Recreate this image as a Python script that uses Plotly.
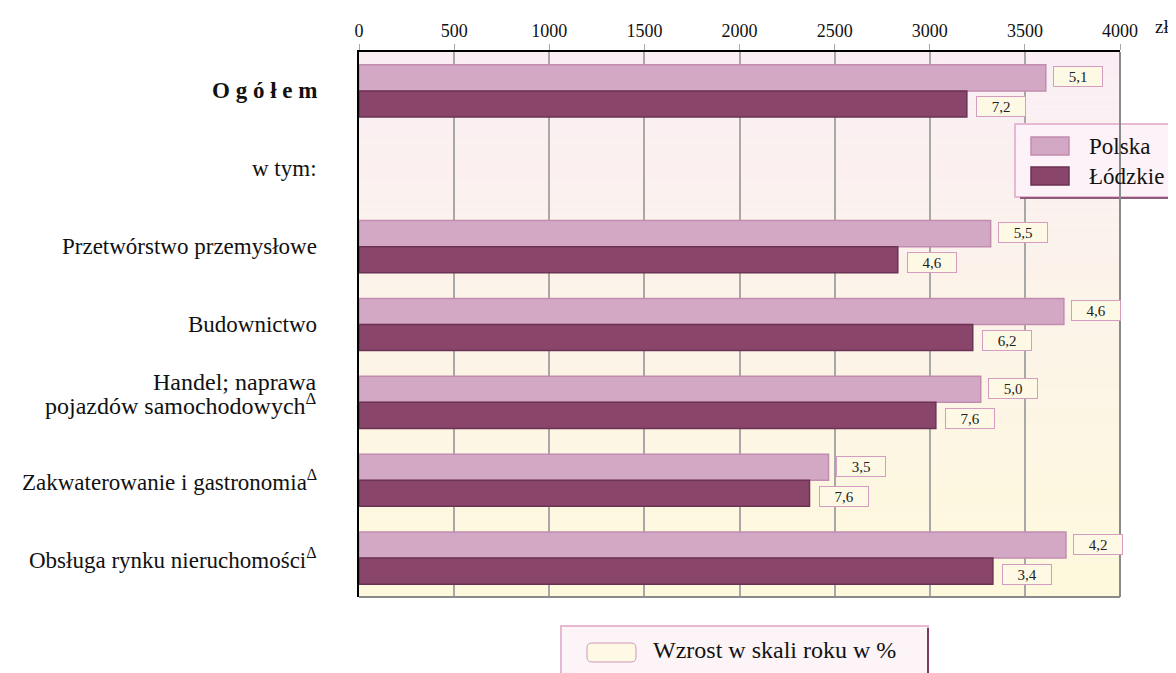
import plotly.graph_objects as go

categories = [
    "<b>O g ó ł e m</b>",
    "w tym:",
    "Przetwórstwo przemysłowe",
    "Budownictwo",
    "Handel; naprawa<br>pojazdów samochodowych<sup>Δ</sup>",
    "Zakwaterowanie i gastronomia<sup>Δ</sup>",
    "Obsługa rynku nieruchomości<sup>Δ</sup>",
]
polska = [3610, None, 3320, 3705, 3268, 2468, 3716]
lodzkie = [3195, None, 2832, 3226, 3032, 2368, 3332]
polska_growth = ["5,1", None, "5,5", "4,6", "5,0", "3,5", "4,2"]
lodzkie_growth = ["7,2", None, "4,6", "6,2", "7,6", "7,6", "3,4"]
x_ticks = [0, 500, 1000, 1500, 2000, 2500, 3000, 3500, 4000]

OFF = 8  # page offset of the plot div (body margin)
W, H = 1176 - OFF, 673 - OFF
# plot area in page pixels
L, R, T, B = 359, 1120, 52, 597
FONT = "Liberation Serif, Times New Roman, serif"
C_POL, C_POL_LINE = "#D3A8C4", "#C28CB0"
C_LDZ, C_LDZ_LINE = "#8A456B", "#6C3254"
C_PINK_BORDER = "#E6B8D2"
C_CREAM = "#FEF9E4"


def px(x):
    return (x - L) / (R - L)


def py(y):
    return (B - y) / (B - T)


def rrect(x0, y0, x1, y1, r):
    # rounded rectangle path in paper coords, corners given in page pixels
    pts = []
    pts.append("M %f,%f" % (px(x0 + r), py(y0)))
    pts.append("L %f,%f" % (px(x1 - r), py(y0)))
    pts.append("Q %f,%f %f,%f" % (px(x1), py(y0), px(x1), py(y0 + r)))
    pts.append("L %f,%f" % (px(x1), py(y1 - r)))
    pts.append("Q %f,%f %f,%f" % (px(x1), py(y1), px(x1 - r), py(y1)))
    pts.append("L %f,%f" % (px(x0 + r), py(y1)))
    pts.append("Q %f,%f %f,%f" % (px(x0), py(y1), px(x0), py(y1 - r)))
    pts.append("L %f,%f" % (px(x0), py(y0 + r)))
    pts.append("Q %f,%f %f,%f Z" % (px(x0), py(y0), px(x0 + r), py(y0)))
    return " ".join(pts)


fig = go.Figure()
fig.add_trace(go.Bar(
    y=categories, x=polska, name="Polska", orientation="h",
    marker=dict(color=C_POL, line=dict(color=C_POL_LINE, width=1.5)),
))
fig.add_trace(go.Bar(
    y=categories, x=lodzkie, name="Łódzkie", orientation="h",
    marker=dict(color=C_LDZ, line=dict(color=C_LDZ_LINE, width=1.5)),
))

annotations = []
label_box = dict(showarrow=False, xanchor="left", width=46, height=17, borderpad=1,
                 bgcolor=C_CREAM, bordercolor="#D49CC0", borderwidth=1,
                 font=dict(size=15, color="#222"))
for cat, v, g in zip(categories, polska, polska_growth):
    if v is not None:
        annotations.append(dict(x=v, y=cat, text=g, xshift=7, yshift=14, **label_box))
for cat, v, g in zip(categories, lodzkie, lodzkie_growth):
    if v is not None:
        annotations.append(dict(x=v, y=cat, text=g, xshift=9, yshift=-16, **label_box))

# category labels
for cat in categories:
    lines = cat.split("<br>")
    shifts = [0] if len(lines) == 1 else [20, -2]
    for line, s in zip(lines, shifts):
        annotations.append(dict(
            x=px(319), xref="paper", y=cat, yref="y", yshift=s, text=line,
            xanchor="right", yanchor="middle", showarrow=False,
            font=dict(size=23 if len(lines) == 1 else 24, color="#111"),
        ))

annotations.append(dict(
    x=px(1153), y=py(26), xref="paper", yref="paper", text="zł", showarrow=False,
    xanchor="left", yanchor="middle", font=dict(size=19, color="#111"),
))

# legend (Polska / Łódzkie)
legend_items = [("Polska", C_POL, C_POL_LINE, 146), ("Łódzkie", C_LDZ, C_LDZ_LINE, 176)]
shapes = []
shapes.append(dict(type="rect", xref="paper", yref="paper",
                   x0=px(1015), x1=px(1190), y0=py(197), y1=py(124),
                   fillcolor="#FCF2F7", line=dict(color=C_PINK_BORDER, width=2)))
shapes.append(dict(type="line", xref="paper", yref="paper",
                   x0=px(1020), x1=px(1190), y0=py(198), y1=py(198),
                   line=dict(color="#8E5C7A", width=2)))
for name, fc, lc, yc in legend_items:
    shapes.append(dict(type="rect", xref="paper", yref="paper",
                       x0=px(1031), x1=px(1069), y0=py(yc + 9), y1=py(yc - 9),
                       fillcolor=fc, line=dict(color=lc, width=1.5)))
    annotations.append(dict(x=px(1087), y=py(yc), xref="paper", yref="paper", text=name,
                            xanchor="left", yanchor="middle", showarrow=False,
                            font=dict(size=23, color="#111")))

# bottom legend: growth label
shapes.append(dict(type="rect", xref="paper", yref="paper",
                   x0=px(561), x1=px(928), y0=py(690), y1=py(626),
                   fillcolor="#FCF4F7", line=dict(color=C_PINK_BORDER, width=2)))
shapes.append(dict(type="line", xref="paper", yref="paper",
                   x0=px(928), x1=px(928), y0=py(690), y1=py(628),
                   line=dict(color="#7A3A5E", width=2)))
shapes.append(dict(type="path", xref="paper", yref="paper",
                   path=rrect(587, 643, 636, 662, 5),
                   fillcolor=C_CREAM, line=dict(color="#CF98BA", width=1)))
annotations.append(dict(
    x=px(651), y=py(650), xref="paper", yref="paper", text="Wzrost w skali roku w %",
    xanchor="left", yanchor="middle", showarrow=False, font=dict(size=24, color="#111"),
))

# vertical gradient in the plot area (pink -> cream)
top_c = (250, 238, 244)
bot_c = (254, 249, 220)
n = 60
for i in range(n):
    t = i / (n - 1)
    c = tuple(round(top_c[k] + (bot_c[k] - top_c[k]) * t) for k in range(3))
    shapes.append(dict(
        type="rect", xref="x domain", yref="y domain", layer="below",
        x0=0, x1=1, y0=1 - (i + 1) / n, y1=1 - i / n,
        fillcolor="rgb(%d,%d,%d)" % c, line=dict(width=0),
    ))

# right & bottom frame
shapes.append(dict(type="line", xref="paper", yref="paper", x0=1, x1=1, y0=0, y1=1,
                   line=dict(color="#8A8A8A", width=2)))
shapes.append(dict(type="line", xref="paper", yref="paper", x0=0, x1=1, y0=0, y1=0,
                   line=dict(color="#8A8A8A", width=2)))

fig.update_layout(
    width=W, height=H,
    margin=dict(l=L - OFF, r=W - (R - OFF), t=T - OFF, b=H - (B - OFF)),
    barmode="group", bargap=0.33, bargroupgap=0,
    paper_bgcolor="white", plot_bgcolor="rgba(0,0,0,0)",
    font=dict(family=FONT, color="#111"),
    xaxis=dict(
        side="top", range=[0, 4000], tickvals=x_ticks, tickfont=dict(size=18),
        showgrid=True, gridcolor="#A8A8A8", gridwidth=1.5,
        showline=True, linecolor="black", linewidth=2,
        ticks="outside", ticklen=6, tickcolor="#A8A8A8", zeroline=False,
    ),
    yaxis=dict(
        autorange="reversed", showticklabels=False,
        showline=True, linecolor="black", linewidth=2,
        ticks="", showgrid=False,
    ),
    shapes=shapes,
    annotations=annotations,
    showlegend=False,
)

fig.write_html("out.html")
